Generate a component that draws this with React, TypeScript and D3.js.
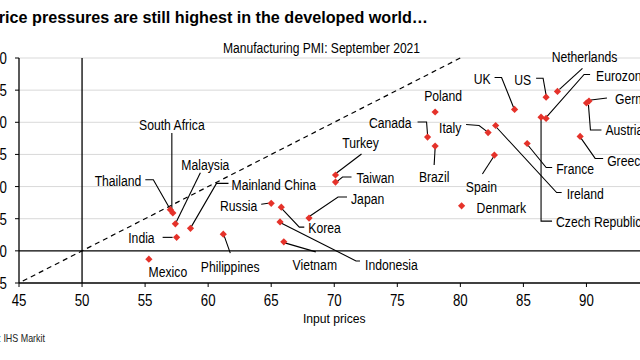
import React from "react";
import * as d3 from "d3";

// ---- data (Manufacturing PMI, September 2021) ----
const countries = [
  "Mexico", "India", "Thailand", "South Africa", "Malaysia", "Mainland China",
  "Philippines", "Russia", "Korea", "Indonesia", "Vietnam", "Japan", "Turkey",
  "Taiwan", "Canada", "Poland", "Brazil", "Italy", "Spain", "Denmark", "UK",
  "Ireland", "US", "Netherlands", "Eurozone", "Czech Republic", "Germany",
  "Austria", "Greece", "France",
];
const inputPrices = [
  55.3, 57.5, 57.0, 57.2, 57.4, 58.6,
  61.2, 65.0, 65.8, 65.7, 66.0, 68.0, 70.1,
  70.1, 77.4, 78.0, 78.0, 82.2, 82.7, 80.1, 84.3,
  82.8, 86.8, 87.7, 86.8, 86.4, 90.2,
  90.0, 89.5, 85.3,
];
const outputPrices = [
  48.7, 52.1, 56.4, 55.9, 54.2, 53.5,
  52.6, 57.4, 56.8, 54.5, 51.4, 55.1, 61.8,
  60.7, 67.7, 71.6, 66.3, 68.4, 64.9, 57.0, 72.0,
  69.5, 73.9, 74.8, 70.6, 70.8, 73.3,
  73.0, 67.8, 66.7,
];
const xTicks = [45, 50, 55, 60, 65, 70, 75, 80, 85, 90, 95];
const yTicks = [45, 50, 55, 60, 65, 70, 75, 80];
const titleText = "Price pressures are still highest in the developed world…";
const subtitleText = "Manufacturing PMI: September 2021";
const xAxisTitle = "Input prices";
const sourceText = "Source: IHS Markit";

// ---- label placement (pixel offsets from each point) ----
type Lay = { a: "start" | "middle" | "end"; dx: number; dy: number; lead?: [number, number][] };
const labelLayout: Record<string, Lay> = {
  Mexico: { a: "middle", dx: 19, dy: 18 },
  India: { a: "end", dx: -22, dy: 6, lead: [[-14, 0], [-4, 0]] },
  Thailand: { a: "end", dx: -29, dy: -24, lead: [[-25, -30], [-17, -30], [-1, -2]] },
  "South Africa": { a: "middle", dx: -1, dy: -83, lead: [[-1, -80], [-1, -3]] },
  Malaysia: { a: "middle", dx: 30, dy: -54, lead: [[25, -51], [1, -2]] },
  "Mainland China": { a: "start", dx: 41, dy: -38, lead: [[38, -45], [26, -45], [1, -2]] },
  Philippines: { a: "middle", dx: 7, dy: 38, lead: [[1, 2], [7, 19]] },
  Russia: { a: "end", dx: -14, dy: 8, lead: [[-10, 1], [-3, 0]] },
  Korea: { a: "start", dx: 27, dy: 26, lead: [[1, 2], [18, 20], [23, 20]] },
  Indonesia: { a: "start", dx: 85, dy: 48, lead: [[1, 1], [76, 39], [80, 39]] },
  Vietnam: { a: "middle", dx: 31, dy: 28, lead: [[1, 1], [32, 10]] },
  Japan: { a: "start", dx: 42, dy: -14, lead: [[1, -2], [29, -21], [38, -21]] },
  Turkey: { a: "middle", dx: 25, dy: -27, lead: [[1, -2], [26, -21]] },
  Taiwan: { a: "start", dx: 21, dy: 1, lead: [[2, -1], [7, -5], [16, -5]] },
  Canada: { a: "end", dx: -16, dy: -9, lead: [[-10, -15], [-1, -15], [0, -2]] },
  Poland: { a: "middle", dx: 8, dy: -11 },
  Brazil: { a: "middle", dx: -1, dy: 36, lead: [[-1, 19], [0, 2]] },
  Italy: { a: "start", dx: -49, dy: 0, lead: [[-22, -8], [-9, -7], [-1, -1]] },
  Spain: { a: "middle", dx: -13, dy: 37, lead: [[-12, 19], [-1, 2]] },
  Denmark: { a: "start", dx: 15, dy: 7 },
  UK: { a: "end", dx: -24, dy: -25, lead: [[-20, -32], [-13, -32], [-1, -2]] },
  Ireland: { a: "start", dx: 71, dy: 73, lead: [[1, 2], [61, 67], [66, 67]] },
  US: { a: "end", dx: -15, dy: -12, lead: [[-10, -19], [-3, -19], [0, -2]] },
  Netherlands: { a: "middle", dx: 27, dy: -29, lead: [[2, -2], [25, -23]] },
  Eurozone: { a: "start", dx: 50, dy: -37, lead: [[1, -2], [38, -44], [44, -44]] },
  "Czech Republic": { a: "start", dx: 15, dy: 110, lead: [[0, 2], [0, 104], [11, 104]] },
  Germany: { a: "start", dx: 26, dy: 3, lead: [[2, -1], [18, -3]] },
  Austria: { a: "start", dx: 19, dy: 32, lead: [[2, 2], [4, 27], [15, 27]] },
  Greece: { a: "start", dx: 27, dy: 30, lead: [[1, 2], [15, 22], [23, 22]] },
  France: { a: "start", dx: 29, dy: 30, lead: [[1, 2], [19, 24], [25, 24]] },
};

const FONT = "'Liberation Sans', Arial, sans-serif";

function T(props: {
  x: number; y: number; size: number; sx?: number; anchor?: string;
  weight?: string | number; fill?: string; children: React.ReactNode;
}) {
  const { x, y, size, sx = 0.88, anchor = "start", weight = "normal", fill = "#000", children } = props;
  return (
    <text
      transform={`translate(${x},${y}) scale(${sx},1)`}
      textAnchor={anchor as any}
      fontSize={size}
      fontFamily={FONT}
      fontWeight={weight as any}
      fill={fill}
    >
      {children}
    </text>
  );
}

export default function App() {
  const W = 640, H = 360;
  const x = d3.scaleLinear().domain([45, 95]).range([19, 649.5]);
  const y = d3.scaleLinear().domain([45, 80]).range([283, 58]);
  const diamond = d3.symbol(d3.symbolSquare, 26)()!;
  const line = d3.line<[number, number]>();

  const pts = countries.map((c, i) => ({ c, px: x(inputPrices[i]), py: y(outputPrices[i]) }));

  return (
    <svg width={W} height={H} style={{ position: "absolute", left: 0, top: 0, background: "#fff" }}>
      <rect width={W} height={H} fill="#fff" />
      {/* gridlines */}
      {yTicks.filter((t) => t !== 45 && t !== 50).map((t) => (
        <line key={t} x1={x(45)} x2={W} y1={y(t)} y2={y(t)} stroke="#d9d9d9" strokeWidth={1} />
      ))}
      {/* reference lines */}
      <line x1={x(50)} x2={x(50)} y1={y(80)} y2={y(45)} stroke="#000" strokeWidth={1.3} />
      <line x1={x(45)} x2={W} y1={y(50)} y2={y(50)} stroke="#000" strokeWidth={1.3} />
      <path
        d={line([[x(45.3), y(45.3)], [x(80), y(80)]])!}
        stroke="#000" strokeWidth={1.2} strokeDasharray="5,4" fill="none"
      />
      {/* axes */}
      <line x1={x(45)} x2={x(45)} y1={y(80)} y2={y(45)} stroke="#000" strokeWidth={1.3} />
      <line x1={x(45)} x2={W} y1={y(45)} y2={y(45)} stroke="#000" strokeWidth={1.3} />
      {yTicks.map((t) => (
        <g key={"yt" + t}>
          <line x1={x(45) - 4} x2={x(45)} y1={y(t)} y2={y(t)} stroke="#000" />
          <T x={7} y={y(t) + 6} size={17} sx={0.78} anchor="end">{t}</T>
        </g>
      ))}
      {xTicks.map((t) => (
        <g key={"xt" + t}>
          <line x1={x(t)} x2={x(t)} y1={y(45)} y2={y(45) + 4} stroke="#000" />
          <T x={x(t)} y={306} size={17} sx={0.78} anchor="middle">{t}</T>
        </g>
      ))}
      <T x={x(70)} y={323} size={13.5} sx={0.9} anchor="middle">{xAxisTitle}</T>
      {/* titles */}
      <text x={-12} y={23} fontSize={16} fontWeight="bold" fontFamily={FONT}
        textLength={440} lengthAdjust="spacingAndGlyphs">{titleText}</text>
      <text x={223} y={53} fontSize={14} fontFamily={FONT}
        textLength={197} lengthAdjust="spacingAndGlyphs">{subtitleText}</text>
      <T x={45} y={342} size={10.5} sx={0.85} anchor="end" fill="#222">{sourceText}</T>
      {/* leader lines */}
      {pts.map(({ c, px, py }) => {
        const l = labelLayout[c];
        if (!l || !l.lead) return null;
        const d = line(l.lead.map(([dx, dy]) => [px + dx, py + dy] as [number, number]));
        return <path key={"ld" + c} d={d!} stroke="#000" strokeWidth={1.1} fill="none" />;
      })}
      {/* points */}
      {pts.map(({ c, px, py }) => (
        <path key={"pt" + c} d={diamond} transform={`translate(${px},${py}) rotate(45)`} fill="#e5322a" />
      ))}
      {/* labels */}
      {pts.map(({ c, px, py }) => {
        const l = labelLayout[c];
        return (
          <T key={"lb" + c} x={px + l.dx} y={py + l.dy} size={14} sx={0.87} anchor={l.a}>{c}</T>
        );
      })}
    </svg>
  );
}
